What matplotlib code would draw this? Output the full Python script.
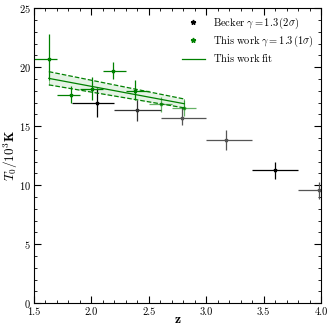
import matplotlib
matplotlib.use("Agg")
import matplotlib.pyplot as plt
import matplotlib.ticker as ticker
from matplotlib.lines import Line2D

plt.rcParams['font.family'] = 'serif'
plt.rcParams['font.serif'] = ['cmr10']
plt.rcParams['mathtext.fontset'] = 'cm'
plt.rcParams['axes.formatter.use_mathtext'] = True

# --- data ---
# Becker gamma=1.3 (2 sigma)
becker_z = [2.05, 2.40, 2.79, 3.17, 3.60, 3.98]
becker_zlo = [1.83, 2.20, 2.61, 3.00, 3.40, 3.80]
becker_zhi = [2.20, 2.61, 3.00, 3.40, 3.80, 4.10]
becker_T = [17.0, 16.35, 15.73, 13.85, 11.27, 9.63]
becker_Tlo = [15.8, 15.45, 15.1, 12.97, 10.48, 8.8]
becker_Thi = [18.2, 17.2, 16.6, 14.7, 11.98, 10.3]
becker_col = ['black', '#333333', '#555555', '#555555', 'black', '#555555']

# This work gamma=1.3 (1 sigma)
work_z = [1.63, 1.82, 2.01, 2.185, 2.38, 2.605, 2.805]
work_zlo = [1.50, 1.70, 1.90, 2.10, 2.30, 2.50, 2.70]
work_zhi = [1.70, 1.90, 2.10, 2.30, 2.50, 2.70, 2.91]
work_T = [20.68, 17.63, 18.14, 19.69, 18.0, 16.84, 16.58]
work_Tlo = [18.9, 16.98, 17.2, 18.98, 17.2, 16.2, 15.9]
work_Thi = [22.77, 18.42, 19.18, 20.4, 18.9, 17.5, 17.2]
work_alpha = [1.0, 1.0, 1.0, 1.0, 1.0, 0.6, 0.6]

# fit with band
fit_z = [1.63, 2.81]
fit_T = [19.05, 16.9]
fit_lo = [18.5, 16.55]
fit_hi = [19.62, 17.3]

lab_becker = r'$\mathrm{Becker}\ \gamma=1.3\,(2\sigma)$'
lab_work = r'$\mathrm{This\ work}\ \gamma=1.3\,(1\sigma)$'
lab_fit = r'$\mathrm{This\ work\ fit}$'

fig = plt.figure(figsize=(3.32, 3.27), dpi=100)
ax = fig.add_axes([0.102, 0.073, 0.865, 0.902])

for i in range(len(becker_z)):
    ax.errorbar(becker_z[i], becker_T[i],
                xerr=[[becker_z[i] - becker_zlo[i]], [becker_zhi[i] - becker_z[i]]],
                yerr=[[becker_T[i] - becker_Tlo[i]], [becker_Thi[i] - becker_T[i]]],
                fmt='*', color=becker_col[i], ms=2.5, elinewidth=0.9, capsize=0)

ax.fill_between(fit_z, fit_lo, fit_hi, color='#2ca02c', alpha=0.12, lw=0)
ax.plot(fit_z, fit_hi, '--', color='green', lw=0.9)
ax.plot(fit_z, fit_lo, '--', color='green', lw=0.9)
ax.plot([fit_z[0], fit_z[0]], [fit_lo[0], fit_hi[0]], color='green', lw=0.6, alpha=0.5)
ax.plot([fit_z[-1], fit_z[-1]], [fit_lo[-1], fit_hi[-1]], color='green', lw=0.6, alpha=0.5)
ax.plot(fit_z, fit_T, '-', color='green', lw=0.9)

for i in range(len(work_z)):
    ax.errorbar(work_z[i], work_T[i],
                xerr=[[work_z[i] - work_zlo[i]], [work_zhi[i] - work_z[i]]],
                yerr=[[work_T[i] - work_Tlo[i]], [work_Thi[i] - work_T[i]]],
                fmt='*', color='green', ms=2.5, elinewidth=0.9, capsize=0,
                alpha=work_alpha[i])

ax.set_xlim(1.5, 4.0)
ax.set_ylim(0, 25)
ax.xaxis.set_major_locator(ticker.MultipleLocator(0.5))
ax.xaxis.set_minor_locator(ticker.MultipleLocator(0.1))
ax.yaxis.set_major_locator(ticker.MultipleLocator(5))
ax.yaxis.set_minor_locator(ticker.MultipleLocator(1))
ax.xaxis.set_major_formatter(ticker.FormatStrFormatter('%.1f'))
ax.tick_params(which='both', direction='in', top=True, right=True, labelsize=7.5, pad=2)
ax.tick_params(axis='x', pad=3)
ax.tick_params(which='major', length=5)
ax.tick_params(which='minor', length=2.5)

ax.set_xlabel(r'$\mathbf{z}$', fontsize=10, labelpad=-2)
ax.set_ylabel(r'$T_0/10^3\mathbf{K}$', fontsize=9.5)
ax.yaxis.set_label_coords(-0.05, 0.5)

handles = [Line2D([], [], marker='*', ls='', color='black', ms=3.5),
           Line2D([], [], marker='*', ls='', color='green', ms=3.5),
           Line2D([], [], ls='-', color='green', lw=0.9)]
ax.legend(handles, [lab_becker, lab_work, lab_fit], loc='upper right', frameon=False,
          fontsize=7.5, handlelength=2.2, borderaxespad=0.3, labelspacing=0.3)

fig.savefig('out.png', dpi=100)
